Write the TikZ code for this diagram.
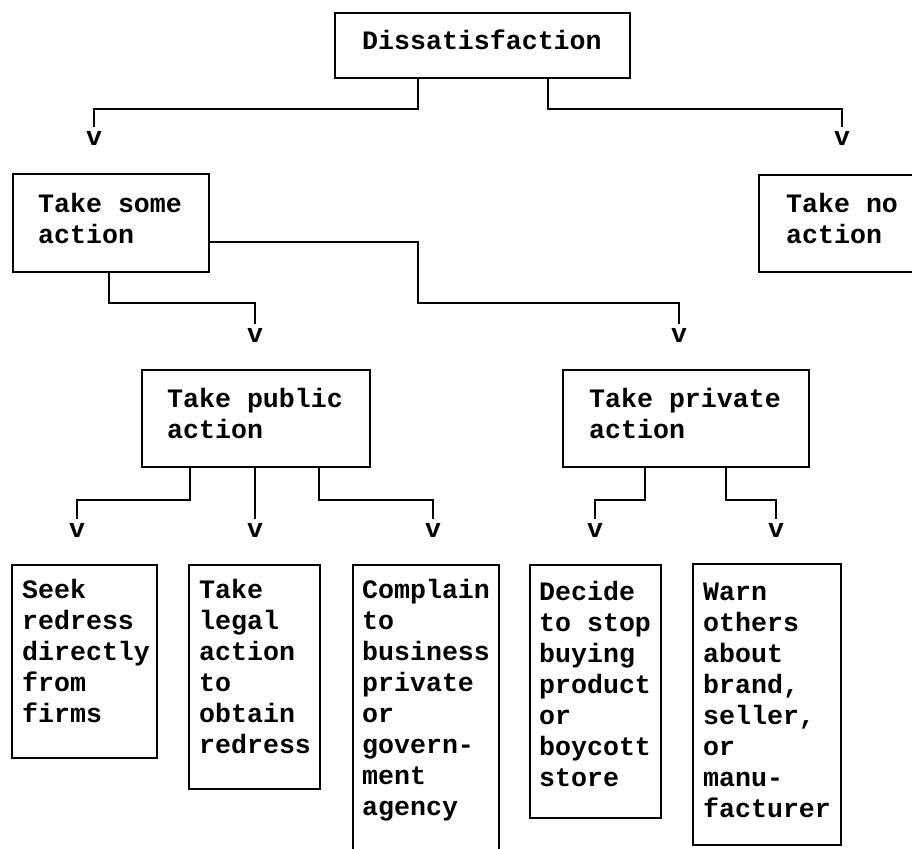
\documentclass[tikz,border=0pt]{standalone}
\usepackage{fontspec}
\setmonofont{Liberation Mono}
\usetikzlibrary{calc}
\newcommand{\boxlines}[1]{\parbox[t]{260pt}{\raggedright #1}}
\tikzset{
  box/.style={draw, line width=2.8pt, rectangle, inner sep=0pt, outer sep=0pt, anchor=north west},
  txt/.style={font=\ttfamily\bfseries\fontsize{26.6pt}{31pt}\selectfont, inner sep=0pt, anchor=base west},
  arr/.style={font=\ttfamily\bfseries\fontsize{26.6pt}{31pt}\selectfont, inner xsep=0pt, inner ysep=4pt, anchor=base},
  conn/.style={line width=2.8pt, line join=miter}
}
\begin{document}
\begin{tikzpicture}[x=1pt, y=-1pt]
\useasboundingbox (0,0) rectangle (912,848);
\clip (0,0) rectangle (912,848);

% boxes
\node[box, minimum width=295pt, minimum height=65pt] (diss) at (335,13) {};
\node[box, minimum width=196pt, minimum height=98pt] (some) at (13,174) {};
\node[box, minimum width=170pt, minimum height=97pt] (noact) at (759,175) {};
\node[box, minimum width=228pt, minimum height=97pt] (pub) at (142,370) {};
\node[box, minimum width=246pt, minimum height=97pt] (priv) at (563,370) {};
\node[box, minimum width=145pt, minimum height=193pt] (seek) at (12,565) {};
\node[box, minimum width=131pt, minimum height=224pt] (legal) at (189,565) {};
\node[box, minimum width=146pt, minimum height=300pt] (compl) at (353,565) {};
\node[box, minimum width=131pt, minimum height=253pt] (decide) at (530,565) {};
\node[box, minimum width=148pt, minimum height=281pt] (warn) at (693,564) {};

% texts
\node[txt] (disst) at (362,50) {Dissatisfaction};
\node[txt] (somet) at (38,212) {\boxlines{Take some\\action}};
\node[txt] (noactt) at (786,212) {\boxlines{Take no\\action}};
\node[txt] (pubt) at (167,407) {\boxlines{Take public\\action}};
\node[txt] (privt) at (589,407) {\boxlines{Take private\\action}};
\node[txt] (seekt) at (22,598) {\boxlines{Seek\\redress\\directly\\from\\firms}};
\node[txt] (legalt) at (199,598) {\boxlines{Take\\legal\\action\\to\\obtain\\redress}};
\node[txt] (complt) at (362,598) {\boxlines{Complain\\to\\business\\private\\or\\govern-\\ment\\agency}};
\node[txt] (decidet) at (539,600) {\boxlines{Decide\\to stop\\buying\\product\\or\\boycott\\store}};
\node[txt] (warnt) at (703,600) {\boxlines{Warn\\others\\about\\brand,\\seller,\\or\\manu-\\facturer}};

% arrowhead marks
\node[arr] (v1) at (94,145) {v};
\node[arr] (v2) at (842,145) {v};
\node[arr] (vpub) at (255,342) {v};
\node[arr] (vpriv) at (679,342) {v};
\node[arr] (vseek) at (77,537) {v};
\node[arr] (vlegal) at (255,537) {v};
\node[arr] (vcompl) at (433,537) {v};
\node[arr] (vdecide) at (595,537) {v};
\node[arr] (vwarn) at (776,537) {v};

% connectors
\draw[conn] ($(diss.south west)+(83,0)$) -- ++(0,31) -| (v1.north);
\draw[conn] ($(diss.south west)+(213,0)$) -- ++(0,31) -| (v2.north);
\draw[conn] ($(some.south west)+(96,0)$) -- ++(0,31) -| (vpub.north);
\draw[conn] ($(some.north east)+(0,68)$) -- ++(209,0) -- ++(0,61) -| (vpriv.north);
\draw[conn] ($(pub.south west)+(48,0)$) -- ++(0,33) -| (vseek.north);
\draw[conn] ($(pub.south west)+(113,0)$) -- (vlegal.north);
\draw[conn] ($(pub.south west)+(177,0)$) -- ++(0,33) -| (vcompl.north);
\draw[conn] ($(priv.south west)+(82,0)$) -- ++(0,33) -| (vdecide.north);
\draw[conn] ($(priv.south west)+(163,0)$) -- ++(0,33) -| (vwarn.north);
\end{tikzpicture}
\end{document}
